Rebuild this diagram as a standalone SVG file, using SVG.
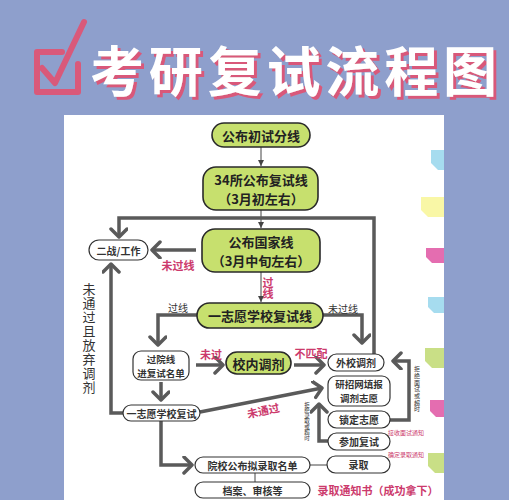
<svg xmlns="http://www.w3.org/2000/svg" width="509" height="500" viewBox="0 0 509 500">
<style>
.cjk{font-family:"Noto Sans CJK SC","Noto Sans",sans-serif}
.g{fill:#c7e06e;stroke:#2a2a2a;stroke-width:1.6}
.w{fill:#fff;stroke:#333;stroke-width:1.2}
.gt{font-family:"Noto Sans CJK SC",sans-serif;font-size:13px;font-weight:700;fill:#222;text-anchor:middle;dominant-baseline:central}
.wt{font-family:"Noto Sans CJK SC",sans-serif;font-size:10px;font-weight:700;fill:#333;text-anchor:middle;dominant-baseline:central}
.pk{font-family:"Noto Sans CJK SC",sans-serif;font-size:11px;font-weight:700;fill:#cc3a6c;text-anchor:middle;dominant-baseline:central}
.dk{font-family:"Noto Sans CJK SC",sans-serif;font-size:10px;fill:#333;text-anchor:middle;dominant-baseline:central}
.vt{font-family:"Noto Sans CJK SC",sans-serif;fill:#333;writing-mode:vertical-rl;text-anchor:start}
.tinyp{font-family:"Noto Sans CJK SC",sans-serif;font-size:6px;fill:#cc3a6c;text-anchor:middle;dominant-baseline:central}
.thick{fill:none;stroke:#5a5a5a;stroke-width:3.5;stroke-linejoin:miter}
.thin{fill:none;stroke:#444;stroke-width:1}
</style>
<defs>
<marker id="chev" markerUnits="userSpaceOnUse" markerWidth="16" markerHeight="20" refX="10" refY="9" orient="auto" viewBox="0 0 16 20">
<path d="M2,1 L10,9 L2,17" fill="none" stroke="#5a5a5a" stroke-width="3.5" stroke-linecap="round" stroke-linejoin="round"/>
</marker>
<marker id="tri" markerUnits="userSpaceOnUse" markerWidth="6" markerHeight="6" refX="6" refY="3" orient="auto" viewBox="0 0 6 6">
<path d="M0,0 L6,3 L0,6 Z" fill="#444"/>
</marker>
<filter id="shadow" x="-5%" y="-20%" width="115%" height="150%">
<feDropShadow dx="3" dy="3" stdDeviation="0" flood-color="#d9597a" flood-opacity="1"/>
</filter>
</defs>
<rect x="0" y="0" width="509" height="500" fill="#8e9fcc"/>
<rect x="64" y="115" width="380" height="385" fill="#ffffff"/>
<g id="tabs">
<path d="M444 150 H431 V163 L438 170 H444 Z" fill="#a6dcef"/>
<path d="M444 197 H421 V210 L428 217 H444 Z" fill="#f9f7a6"/>
<path d="M444 248 H426 V257 L432 263 H444 Z" fill="#e46db0"/>
<path d="M444 297 H428 V307 L434 313 H444 Z" fill="#a6dcef"/>
<path d="M444 348 H425 V361 L432 368 H444 Z" fill="#c9df86"/>
<path d="M444 400 H430 V411 L436 417 H444 Z" fill="#e46db0"/>
<path d="M444 453 H428 V466 L435 473 H444 Z" fill="#c9df86"/>
</g>
<g id="title">
<path d="M62 52 L37 52 L37 92 L78 92 L78 64" fill="none" stroke="#d9597a" stroke-width="6" stroke-linecap="round" stroke-linejoin="round"/>
<path d="M42 68 L55 83 L84 22" fill="none" stroke="#d9597a" stroke-width="6" stroke-linecap="round" stroke-linejoin="round"/>
<text x="90" y="68" textLength="407" class="cjk" font-size="54" font-weight="700" fill="#ffffff" dominant-baseline="central" filter="url(#shadow)">考研复试流程图</text>
</g>
<g id="connectors">
<path class="thin" d="M261 147 V166" marker-end="url(#tri)"/>
<path class="thin" d="M261 210 V228" marker-end="url(#tri)"/>
<path class="thin" d="M261 272 V302" marker-end="url(#tri)"/>
<path class="thick" d="M374 354 V218 H119 V237" marker-end="url(#chev)"/>
<path class="thick" d="M196 250 H152" marker-end="url(#chev)"/>
<path class="thick" d="M197 315 H158 V345" marker-end="url(#chev)"/>
<path class="thick" d="M323 315 H362 V343" marker-end="url(#chev)"/>
<path class="thick" d="M196 365 H223" marker-end="url(#chev)"/>
<path class="thick" d="M161 382 V400" marker-end="url(#chev)"/>
<path class="thick" d="M294 365 H324" marker-end="url(#chev)"/>
<path class="thick" d="M200 412 L322 388" marker-end="url(#chev)"/>
<path class="thick" d="M123 413 H111 V264" marker-end="url(#chev)"/>
<path class="thick" d="M161 421 V465 H192" marker-end="url(#chev)"/>
<path class="thick" d="M390 420 H409 V361 H393" marker-end="url(#chev)"/>
<path class="thick" d="M328 441 H319 V404" marker-end="url(#chev)"/>
<path class="thin" d="M310 465 H327" stroke="#888"/>
<path class="thin" d="M255 473 V482" stroke="#888"/>
<text class="pk" x="178" y="265">未过线</text>
<text class="vt" x="268" y="277" font-size="11" font-weight="700" style="fill:#cc3a6c">过线</text>
<text class="dk" x="178" y="307">过线</text>
<text class="dk" x="343" y="308">未过线</text>
<text class="pk" x="211" y="354">未过</text>
<text class="pk" x="311" y="353">不匹配</text>
<text class="pk" x="263" y="410" transform="rotate(-12 263 410)">未通过</text>
<text class="vt" x="89" y="283" font-size="13" letter-spacing="1">未通过且放弃调剂</text>
<text class="vt" x="307" y="402" font-size="5.5">拒绝录取或超时</text>
<text class="vt" x="417" y="366" font-size="6" letter-spacing="0.7">拒绝面试或超时</text>
<text class="tinyp" x="406" y="432">接收面试通知</text>
<text class="tinyp" x="406" y="454">确定录取通知</text>
</g>
<g id="n1"><rect class="g" x="212" y="123" width="98" height="24" rx="12"/><text class="gt" x="261" y="135">公布初试分线</text></g>
<g id="n2"><rect class="g" x="203" y="167" width="115" height="43" rx="13"/><text class="gt"><tspan x="261" y="179">34所公布复试线</tspan><tspan x="261" y="198">（3月初左右）</tspan></text></g>
<g id="n3"><rect class="g" x="202" y="229" width="118" height="43" rx="13"/><text class="gt"><tspan x="261" y="241">公布国家线</tspan><tspan x="261" y="260">（3月中旬左右）</tspan></text></g>
<g id="n4"><rect class="g" x="197" y="303" width="126" height="25" rx="12.5"/><text class="gt" x="260" y="315.5">一志愿学校复试线</text></g>
<g id="n5"><rect class="g" x="226" y="352" width="65" height="22" rx="11"/><text class="gt" x="258.5" y="363">校内调剂</text></g>
<g id="n6"><rect class="w" x="89" y="240" width="59" height="20" rx="10"/><text class="wt" x="118.5" y="250">二战/工作</text></g>
<g id="n7"><rect class="w" x="133" y="351" width="56" height="29" rx="8"/><text class="wt" font-size="9.5" style="font-size:9.5px"><tspan x="161" y="358.5">过院线</tspan><tspan x="161" y="372.5">进复试名单</tspan></text></g>
<g id="n8"><rect class="w" x="123" y="405" width="77" height="16" rx="8"/><text class="wt" x="161.5" y="413">一志愿学校复试</text></g>
<g id="n9"><rect class="w" x="195" y="457" width="115" height="16" rx="8"/><text class="wt" x="252.5" y="465">院校公布拟录取名单</text></g>
<g id="n10"><rect class="w" x="195" y="482" width="115" height="16" rx="8"/><text class="wt" x="252.5" y="490">档案、审核等</text></g>
<g id="n11"><rect class="w" x="328" y="354" width="56" height="17" rx="8.5"/><text class="wt" x="356" y="362.5">外校调剂</text></g>
<g id="n12"><rect class="w" x="328" y="376" width="62" height="30" rx="8"/><text class="wt" style="font-size:9.5px"><tspan x="359" y="384">研招网填报</tspan><tspan x="359" y="398">调剂志愿</tspan></text></g>
<g id="n13"><rect class="w" x="328" y="411" width="62" height="17" rx="8.5"/><text class="wt" x="359" y="419.5">锁定志愿</text></g>
<g id="n14"><rect class="w" x="328" y="433" width="62" height="17" rx="8.5"/><text class="wt" x="359" y="441.5">参加复试</text></g>
<g id="n15"><rect class="w" x="327" y="456" width="63" height="17" rx="8.5"/><text class="wt" x="358.5" y="464.5">录取</text></g>
<g id="n16"><text class="pk" x="378" y="490">录取通知书（成功拿下）</text></g>
</svg>
